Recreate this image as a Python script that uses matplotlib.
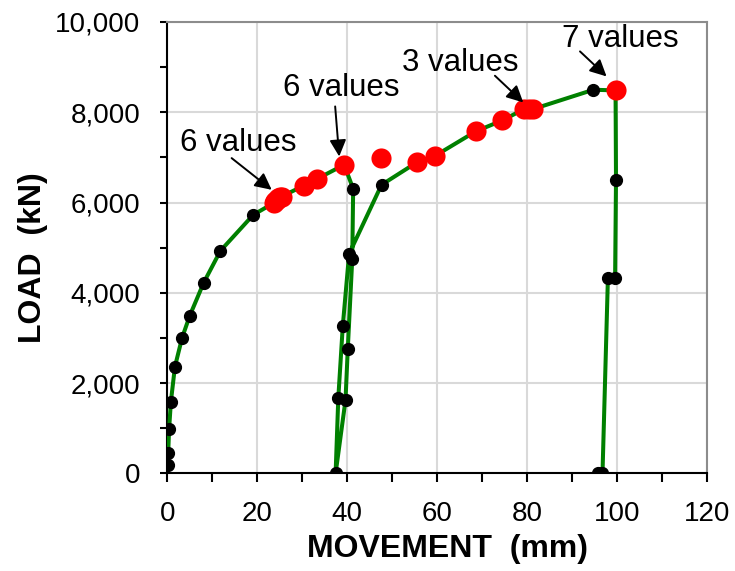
import matplotlib
matplotlib.use("Agg")
import matplotlib.pyplot as plt
from matplotlib.ticker import MultipleLocator, FuncFormatter

plt.rcParams['font.family'] = ['Liberation Sans', 'DejaVu Sans']

# load-movement path, in test order (mm, kN)
movement = [0.2, 0.2, 0.4, 0.8, 1.7, 3.3, 5.0, 8.1, 11.8, 19.1,
            23.6, 24.0, 24.4, 24.7, 25.1, 25.4, 30.4, 33.3, 39.3,
            41.3, 41.1, 40.1, 39.6, 37.4,
            38.0, 39.0, 40.4, 47.6,
            55.4, 59.5, 68.5, 74.4, 79.3, 80.3, 81.3, 94.7, 99.6,
            99.7, 99.5, 97.9, 96.7, 95.7]
load = [184, 443, 976, 1588, 2364, 3007, 3494, 4226, 4929, 5727,
        5987, 6030, 6065, 6098, 6115, 6133, 6377, 6525, 6836,
        6304, 4752, 2749, 1625, 0,
        1676, 3273, 4863, 6392,
        6887, 7035, 7574, 7818, 8071, 8071, 8071, 8499, 8484,
        6503, 4324, 4324, 0, 0]
# 'r' = repeated/flagged reading (red), 'k' = normal reading
marker_type = ['k'] * 10 + ['r'] * 9 + ['k'] * 9 + ['r'] * 7 + ['k', 'r'] + ['k'] * 5

# flagged reading that sits off the line
extra_movement = [47.4]
extra_load = [6984]

notes = ["6 values", "6 values", "3 values", "7 values"]
note_text_xy = [(15.8, 7317), (38.6, 8537), (65.0, 9091), (100.6, 9625)]
note_tail_xy = [(14.3, 6984), (37.3, 8129), (72.8, 8809), (91.7, 9348)]
note_tip_xy = [(23.2, 6282), (38.2, 7020), (79.1, 8217), (97.6, 8794)]

fig = plt.figure(figsize=(7.35, 5.71), dpi=100)
ax = fig.add_axes([0.2276, 0.171, 0.7348, 0.7905])

ax.plot(movement, load, color='green', lw=2.9, zorder=3)
bx = [m for m, t in zip(movement, marker_type) if t == 'k']
by = [l for l, t in zip(load, marker_type) if t == 'k']
rx = [m for m, t in zip(movement, marker_type) if t == 'r'] + extra_movement
ry = [l for l, t in zip(load, marker_type) if t == 'r'] + extra_load
ax.plot(bx, by, 'o', color='black', ms=8.5, zorder=4)
ax.plot(rx, ry, 'o', color='red', ms=14.5, mec='none', zorder=5)

for txt, txy, tail, tip in zip(notes, note_text_xy, note_tail_xy, note_tip_xy):
    ax.text(txy[0], txy[1], txt, fontsize=22.5, ha='center', va='center', zorder=6)
    ax.annotate('', xy=tip, xytext=tail,
                arrowprops=dict(arrowstyle='-|>', color='black', lw=1.4,
                                mutation_scale=25, shrinkA=0, shrinkB=0),
                zorder=6)

ax.set_xlim(0, 120)
ax.set_ylim(0, 10000)
ax.xaxis.set_major_locator(MultipleLocator(20))
ax.xaxis.set_minor_locator(MultipleLocator(10))
ax.yaxis.set_major_locator(MultipleLocator(2000))
ax.yaxis.set_minor_locator(MultipleLocator(1000))
ax.yaxis.set_major_formatter(FuncFormatter(lambda v, p: '{:,.0f}'.format(v)))
ax.grid(True, which='major', color='#d9d9d9', lw=1.5, zorder=0)
ax.set_axisbelow(True)

for s in ['left', 'bottom']:
    ax.spines[s].set_color('black')
    ax.spines[s].set_linewidth(1.5)
for s in ['top', 'right']:
    ax.spines[s].set_color('#8c8c8c')
    ax.spines[s].set_linewidth(1.5)

ax.tick_params(which='both', direction='out', width=1.5, labelsize=20)
ax.tick_params(axis='x', which='both', length=6.5, pad=13.5)
ax.tick_params(axis='y', which='both', length=5, pad=14.5)
ax.tick_params(top=False, right=False)

ax.set_xlabel('MOVEMENT  (mm)', fontsize=23, fontweight='bold')
ax.set_ylabel('LOAD  (kN)', fontsize=23, fontweight='bold')
ax.xaxis.set_label_coords(0.519, -0.135)
ax.yaxis.set_label_coords(-0.221, 0.4785)

fig.savefig('out.png', dpi=100)
